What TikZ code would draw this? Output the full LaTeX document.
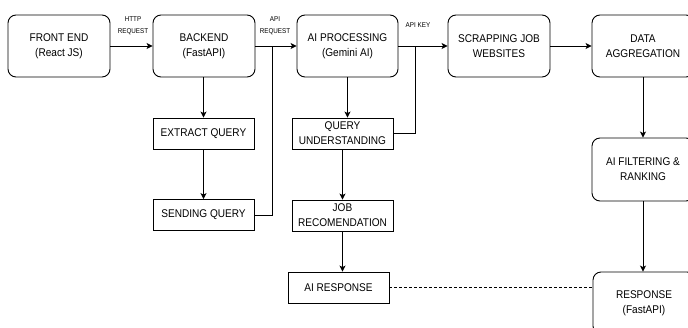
\documentclass[tikz,border=0pt]{standalone}
\usepackage{fontspec}
\setmainfont{Liberation Sans}[FakeStretch=0.9]
\usetikzlibrary{arrows.meta}
\begin{document}
\begin{tikzpicture}[x=1pt,y=-1pt,
  base/.style={draw=black,line width=0.9pt,align=center,inner sep=0pt,
    font=\fontsize{11.2}{15}\selectfont},
  rbox/.style={base,rounded corners=8pt,minimum width=102pt,minimum height=62pt},
  sbox/.style={base,minimum width=101pt,minimum height=31pt},
  lbl/.style={align=center,inner sep=0pt,font=\fontsize{7}{12}\selectfont},
  arr/.style={line width=0.9pt,-{Stealth[length=6pt,width=6pt,inset=1.5pt]}},
  ln/.style={line width=0.9pt},
  dashline/.style={line width=0.9pt,dash pattern=on 3pt off 2pt}]
\useasboundingbox (0,0) rectangle (688,327);
\clip (0,0) rectangle (688,327);
\node[rbox] (fe) at (59,46) {FRONT END\\(React JS)};
\node[rbox] (be) at (204,46) {BACKEND\\(FastAPI)};
\node[rbox,minimum width=101pt] (ai) at (347.5,46) {AI PROCESSING\\(Gemini AI)};
\node[rbox] (sc) at (499,46) {SCRAPPING JOB\\WEBSITES};
\node[rbox] (da) at (643,46) {DATA\\AGGREGATION};
\node[rbox,minimum height=63pt] (af) at (643,169.5) {AI FILTERING \&\\RANKING};
\node[rbox] (rs) at (644,303) {RESPONSE\\(FastAPI)};
\node[sbox] (eq) at (203.5,133.5) {EXTRACT QUERY};
\node[sbox] (sq) at (203.5,215) {SENDING QUERY};
\node[sbox] (qu) at (342.5,133.5) {QUERY\\UNDERSTANDING};
\node[sbox] (jr) at (342.5,215.5) {JOB\\RECOMENDATION};
\node[sbox] (ar) at (338.5,287.5) {AI RESPONSE};
\node[lbl] (l1) at (133,26) {HTTP\\REQUEST};
\node[lbl] (l2) at (275,26) {API\\REQUEST};
\node[lbl] (l3) at (418,25) {API KEY};
\coordinate (j1) at (272,46);
\coordinate (j2) at (415,46);
\draw[arr] (fe) -- (be);
\draw[arr] (be) -- (ai);
\draw[arr] (ai) -- (sc);
\draw[arr] (sc) -- (da);
\draw[arr] (be.south -| eq.north) -- (eq.north);
\draw[arr] (eq) -- (sq);
\draw[ln] (sq.east) -| (j1);
\draw[arr] (ai.south) -- (ai.south |- qu.north);
\draw[ln] (qu.east) -| (j2);
\draw[arr] (qu) -- (jr);
\draw[arr] (jr.south) -- (jr.south |- ar.north);
\draw[arr] (da) -- (af);
\draw[arr] (af.south) -- (af.south |- rs.north);
\draw[dashline] (ar.east) -- (ar.east -| rs.west);
\end{tikzpicture}
\end{document}
